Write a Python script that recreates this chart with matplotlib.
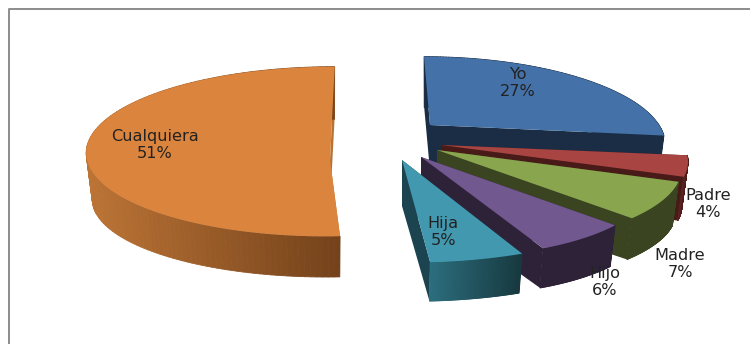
import numpy as np
import matplotlib
matplotlib.use("Agg")
import matplotlib.pyplot as plt
from matplotlib.collections import PolyCollection
from matplotlib.colors import to_rgb

# data
categories = ["Yo", "Padre", "Madre", "Hijo", "Hija", "Cualquiera"]
shares = [27, 4, 7, 6, 5, 51]

# style
top_colors = ["#4472A8", "#A84442", "#89A54E", "#71588F", "#4198AF", "#DB843D"]
wall_dark = ["#1B2D45", "#481A18", "#3A4420", "#2E2239", "#17393F", "#74421B"]
wall_light = ["#1B2D45", "#5A2220", "#3A4420", "#2E2239", "#2C6E7E", "#BC7435"]
side_colors = ["#1B2D45", "#481A18", "#3A4420", "#2E2239", "#1B4350", "#B87333"]

# layout: per-slice apex (explosion) and projection of the exploded 3-D pie
apex_x = [430, 441, 437, 421, 402, 330]
apex_y = [125, 145, 150, 157, 160, 160]
reach_x = [229, 242, 239, 222, 248, 243]
reach_y = [82, 80, 80, 80, 82, 84]
persp = [0.2, 0.2, 0.2, 0.2, 0.2, -0.1]
shear = [0.087, 0.0, 0.05, 0.238, 0.085, -0.05]
label_x = [518, 708, 680, 605, 443, 155]
label_y = [83, 204, 264, 282, 232, 145]
depth = 46
shrink_x, shrink_y = 0.975, 0.93

W, H = 750, 344
fig = plt.figure(figsize=(W / 100, H / 100), dpi=100)
ax = fig.add_axes([0, 0, 1, 1])
ax.set_xlim(0, W)
ax.set_ylim(H, 0)
ax.axis("off")

# frame: left and top edges only, the rest is cropped away
ax.plot([9, 9, 750], [344, 8.5, 8.5], color="#8C8C8C", lw=1.4, zorder=1)


def rim(theta, i):
    X, Y = np.sin(theta), np.cos(theta)
    s = 1 / (1 + persp[i] * Y)
    dy = -reach_y[i] * Y * s
    return reach_x[i] * X * s + shear[i] * dy, dy


edges = np.radians(np.cumsum([0] + shares) * 3.6)
z = 2
for i, name in enumerate(categories):
    t = np.linspace(edges[i], edges[i + 1], 120)
    dx, dy = rim(t, i)
    ax0, ay0 = apex_x[i], apex_y[i]
    tx, ty = ax0 + dx, ay0 + dy
    bx, by = ax0 + dx * shrink_x, ay0 + depth + dy * shrink_y
    bax, bay = ax0, ay0 + depth

    # flat cut faces
    for j in (0, -1):
        ax.fill([ax0, tx[j], bx[j], bax], [ay0, ty[j], by[j], bay],
                color=side_colors[i], lw=0, zorder=z)
    # rim wall with a lighting gradient
    quads = [[(tx[k], ty[k]), (tx[k + 1], ty[k + 1]), (bx[k + 1], by[k + 1]), (bx[k], by[k])]
             for k in range(len(t) - 1)]
    c0, c1 = np.array(to_rgb(wall_dark[i])), np.array(to_rgb(wall_light[i]))
    f = (tx[:-1] - tx.min()) / max(np.ptp(tx), 1)
    cols = [c1 * (1 - v) + c0 * v for v in f]
    ax.add_collection(PolyCollection(quads, facecolors=cols, edgecolors=cols, linewidths=0.6, zorder=z))
    # top face
    ax.fill(np.r_[ax0, tx], np.r_[ay0, ty], color=top_colors[i], lw=0, zorder=z + 0.5)
    z += 1
    ax.text(label_x[i], label_y[i], f"{name}\n{shares[i]}%", ha="center", va="center",
            fontsize=11.6, color="#222222", linespacing=1.2, family="DejaVu Sans", zorder=50)

fig.savefig("out.png", dpi=100)
